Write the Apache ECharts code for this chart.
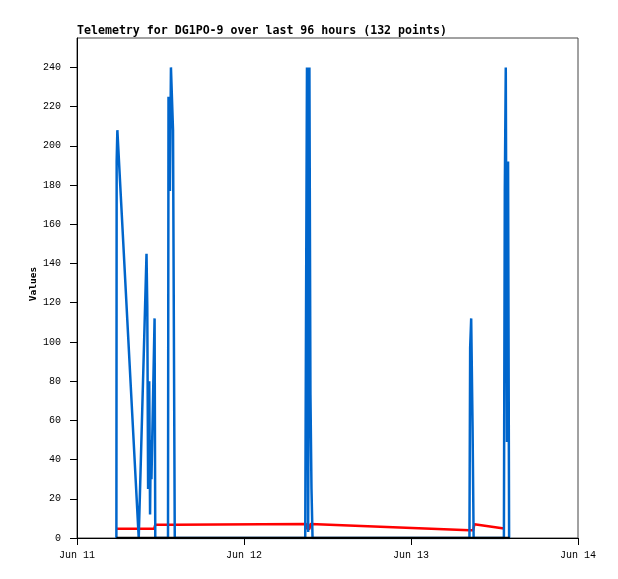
<!DOCTYPE html>
<html>
<head>
<meta charset="utf-8">
<script src="https://cdn.jsdelivr.net/npm/echarts@6/dist/echarts.min.js"></script>
<style>html,body{margin:0;padding:0;background:#fff}#c{width:618px;height:579px}</style>
</head>
<body>
<div id="c"></div>
<script>
// hours since Jun 11 00:00
var xTickLabels = ['Jun 11', 'Jun 12', 'Jun 13', 'Jun 14'];
var yTicks = [0, 20, 40, 60, 80, 100, 120, 140, 160, 180, 200, 220, 240];

var blueTimes = [5.66, 5.70, 5.80, 8.87, 9.99, 10.10, 10.22, 10.38, 10.50, 10.60, 10.70, 11.15, 11.25,
                 13.08, 13.15, 13.35, 13.50, 13.80, 14.05,
                 32.80, 32.92, 33.05, 33.22, 33.40, 33.55, 33.70, 33.85,
                 56.40, 56.50, 56.65, 56.85, 57.00,
                 61.35, 61.48, 61.62, 61.80, 61.95, 62.10];
var blueValues = [0, 192, 208, 0, 145, 118, 25, 80, 12, 50, 30, 112, 0,
                  0, 225, 177, 240, 208, 0,
                  0, 120, 240, 3, 240, 73, 25, 0,
                  0, 97, 112, 56, 0,
                  0, 177, 240, 49, 192, 0];

var redTimes = [5.66, 11.10, 11.25, 13.90, 14.05, 32.95, 33.10, 33.40, 33.55, 56.40, 56.95, 57.10, 61.37];
var redValues = [4.7, 4.7, 6.8, 6.8, 7.1, 7.1, 4.6, 4.6, 7.1, 3.9, 3.9, 7.0, 4.9];

var blackTimes = [5.66, 62.20];
var blackValues = [0, 0];

function pairs(t, v) { return t.map(function (x, i) { return [x, v[i]]; }); }

var chart = echarts.init(document.getElementById('c'), null, {renderer: 'canvas'});
var mono = 'Liberation Mono';
chart.setOption({
  animation: false,
  backgroundColor: '#fff',
  title: {
    text: 'Telemetry for DG1PO-9 over last 96 hours (132 points)',
    left: 77, top: 25, padding: 0,
    textStyle: {fontFamily: 'DejaVu Sans Mono', fontWeight: 'bold', fontSize: 11.6, color: '#000', lineHeight: 12}
  },
  grid: {left: 77, right: 40, top: 38, bottom: 41, show: true, borderColor: '#444', borderWidth: 1, backgroundColor: 'transparent'},
  xAxis: {
    type: 'value', min: 0, max: 72, interval: 24,
    axisLine: {show: true, onZero: false, lineStyle: {color: '#000', width: 1}},
    axisTick: {show: true, length: 7, lineStyle: {color: '#000'}},
    splitLine: {show: false},
    axisLabel: {
      margin: 12, color: '#000', fontFamily: mono, fontSize: 10,
      formatter: function (v) { return xTickLabels[Math.round(v / 24)] || ''; }
    }
  },
  yAxis: {
    type: 'value', min: 0, max: 255,
    name: 'Values', nameLocation: 'middle', nameRotate: 90, nameGap: 38, nameMoveOverlap: false,
    nameTextStyle: {fontFamily: 'DejaVu Sans Mono', fontWeight: 'bold', fontSize: 9.5, color: '#000', padding: [0, 0, 0, 8]},
    axisLine: {show: true, lineStyle: {color: '#000', width: 1}},
    axisTick: {show: true, length: 7, customValues: yTicks, lineStyle: {color: '#000'}},
    splitLine: {show: false},
    axisLabel: {margin: 16, color: '#000', fontFamily: mono, fontSize: 10, customValues: yTicks}
  },
  series: [
    {type: 'line', data: pairs(redTimes, redValues), showSymbol: false, lineStyle: {color: '#ff0000', width: 2.5}, itemStyle: {color: '#ff0000'}},
    {type: 'line', data: pairs(blueTimes, blueValues), showSymbol: false, lineStyle: {color: '#0066cc', width: 2.5}, itemStyle: {color: '#0066cc'}},
    {type: 'line', data: pairs(blackTimes, blackValues), showSymbol: false, lineStyle: {color: '#000', width: 2.5}, itemStyle: {color: '#000'}}
  ]
});
</script>
</body>
</html>
